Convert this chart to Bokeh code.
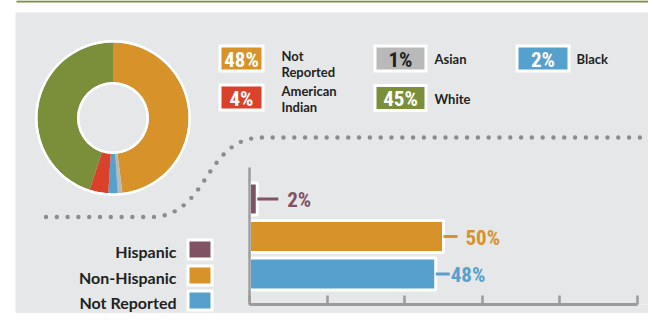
import numpy as np
from bokeh.plotting import figure
from bokeh.models import Range1d, LinearAxis, SingleIntervalTicker, ColumnDataSource
from bokeh.core.properties import value
from bokeh.embed import file_html
from bokeh.resources import INLINE

# ---------------- data ----------------
race_labels = ["Not\nReported", "Asian", "Black", "American\nIndian", "White"]
race_pct = [48, 1, 2, 4, 45]
race_colors = ["#d8922a", "#b9b9b9", "#56a0cd", "#d9412b", "#7b8f3b"]
race_num_colors = ["white", "#231f20", "white", "white", "white"]

eth_labels = ["Hispanic", "Non-Hispanic", "Not Reported"]
eth_pct = [2, 50, 48]
eth_colors = ["#7f5363", "#d8922a", "#56a0cd"]

axis_step = 20
axis_max = 100

# ---------------- style / layout ----------------
PANEL = "#e6e7e8"
GREEN = "#7b8f3b"
DARK = "#231f20"
AXIS = "#9b9b9b"
DOT = "#8c8c8c"
LATO = value("Lato")
NUMF = value("Roboto Condensed, DejaVu Sans Condensed, Roboto")

W, H = 648, 313
FRAME_B = 304      # frame bottom (px from top of figure)
PX = 3.88          # px per percent on the bar chart
X0 = 249           # x of 0 %
BAR_Y0 = 198.5     # y of first bar centre
BAR_DY = 37.5      # bar spacing (px)

p = figure(width=W, height=H, output_backend="svg", toolbar_location=None,
           x_range=Range1d(0, W), y_range=Range1d(FRAME_B, 0),
           x_axis_location=None, y_axis_location=None,
           min_border_left=0, min_border_right=0, min_border_top=0,
           min_border_bottom=H - FRAME_B, background_fill_color=PANEL,
           border_fill_color=PANEL, outline_line_color=None)
p.xgrid.grid_line_color = None
p.ygrid.grid_line_color = None

p.extra_x_ranges = {"pct": Range1d((0 - X0) / PX, (W - X0) / PX)}
p.extra_y_ranges = {"bars": Range1d((FRAME_B - BAR_Y0) / BAR_DY, (0 - BAR_Y0) / BAR_DY)}

# white surround, panel edge and top rule
p.quad(left=-5, right=700, top=-5, bottom=12, fill_color="white", line_color=None)
p.quad(left=16, right=700, top=0, bottom=2, fill_color=GREEN, line_color=None)

# ---------------- donut ----------------
cx, cy = 112.5, 117.5
cum = np.cumsum([0] + race_pct)
start = np.pi / 2 - 2 * np.pi * cum[:-1] / 100.0
end = np.pi / 2 - 2 * np.pi * cum[1:] / 100.0
p.annular_wedge(x=cx, y=cy, inner_radius=36, outer_radius=75.5,
                start_angle=start, end_angle=end, direction="clock",
                fill_color=race_colors, line_color=None)
p.annulus(x=cx, y=cy, inner_radius=75.5, outer_radius=78, fill_color="white", line_color=None)
p.annulus(x=cx, y=cy, inner_radius=33.5, outer_radius=36, fill_color="white", line_color=None)

# ---------------- race legend ----------------
box_cx = [241, 400, 542.5, 241, 400]
box_cy = [58, 58, 58, 97, 97.5]
box_w = [46, 54, 55, 46, 54]
lbl_x = [281, 434, 576, 281, 434]
lbl_y = [63, 58, 58, 98, 98]
p.rect(x=box_cx, y=box_cy, width=box_w, height=28, fill_color="white", line_color=None)
p.rect(x=box_cx, y=box_cy, width=[w - 6 for w in box_w], height=22,
       fill_color=race_colors, line_color=None)
p.text(x=box_cx, y=[y + 1 for y in box_cy], text=[f"{v}%" for v in race_pct],
       text_color=race_num_colors, text_font=NUMF, text_font_style="bold",
       text_font_size="21px", text_align="center", text_baseline="middle")
p.text(x=lbl_x, y=lbl_y, text=race_labels, text_color=DARK, text_font=LATO,
       text_font_style="bold", text_font_size="13px", text_align="left",
       text_baseline="middle", text_line_height=1.0)

# ---------------- dotted connector ----------------
def bez(p0, p1, p2, p3, n=400):
    t = np.linspace(0, 1, n)[:, None]
    P = [np.array(q, float) for q in (p0, p1, p2, p3)]
    return ((1 - t) ** 3) * P[0] + 3 * ((1 - t) ** 2) * t * P[1] + 3 * (1 - t) * t ** 2 * P[2] + t ** 3 * P[3]

path = np.vstack([
    np.column_stack([np.linspace(45.5, 150, 200), np.full(200, 216.5)]),
    bez((150, 216.5), (209, 216.5), (203, 137), (262, 137)),
    np.column_stack([np.linspace(262, 640, 400), np.full(400, 137)]),
])
seg = np.hypot(np.diff(path[:, 0]), np.diff(path[:, 1]))
arc = np.concatenate([[0], np.cumsum(seg)])
ds = np.arange(0, arc[-1], 10.8)
dx = np.interp(ds, arc, path[:, 0])
dy = np.interp(ds, arc, path[:, 1])
p.scatter(x=dx, y=dy, size=4.4, marker="circle", fill_color=DOT, line_color=None)

# ---------------- bars ----------------
idx = list(range(len(eth_labels)))
src = ColumnDataSource(dict(y=idx, right=eth_pct, color=eth_colors))
p.hbar(y="y", left=0, right="right", height=0.853, fill_color="color",
       line_color="white", line_width=3, source=src,
       x_range_name="pct", y_range_name="bars")

lead_px = [21, 14, 14]
gap_px = [9, 8, 1]
p.segment(x0=eth_pct, x1=[v + l / PX for v, l in zip(eth_pct, lead_px)],
          y0=idx, y1=idx, line_color=eth_colors, line_width=3,
          x_range_name="pct", y_range_name="bars")
p.text(x=[v + (l + g) / PX for v, l, g in zip(eth_pct, lead_px, gap_px)],
       y=[i + 0.03 for i in idx], text=[f"{v}%" for v in eth_pct],
       text_color=eth_colors, text_font=NUMF, text_font_style="bold",
       text_font_size="21px", text_align="left", text_baseline="middle",
       x_range_name="pct", y_range_name="bars")

# vertical axis line
p.segment(x0=0, x1=0, y0=167, y1=FRAME_B + 1, line_color=AXIS, line_width=2.5,
          x_range_name="pct")

# bottom axis
ax = LinearAxis(x_range_name="pct", bounds=(0, axis_max),
                ticker=SingleIntervalTicker(interval=axis_step))
ax.axis_line_color = AXIS
ax.axis_line_width = 3
ax.major_tick_line_color = AXIS
ax.major_tick_line_width = 2.5
ax.major_tick_in = 9
ax.major_tick_out = 0
ax.minor_tick_line_color = None
ax.major_label_text_font_size = "0px"
ax.major_label_text_color = None
ax.major_label_standoff = 0
p.add_layout(ax, "below")

# cover the frame/border seam and keep the left margin white (unclipped overlay level)
p.quad(left=14, right=247.6, top=300, bottom=320, fill_color=PANEL, line_color=None,
       level="overlay")
p.quad(left=-5, right=15, top=-5, bottom=320, fill_color="white", line_color=None,
       level="overlay")

# ---------------- ethnicity legend ----------------
eth_box_y = [249, 275, 300]
p.rect(x=199.5, y=eth_box_y, width=27, height=22, fill_color="white", line_color=None,
       level="overlay")
p.rect(x=199.5, y=eth_box_y, width=21, height=16, fill_color=eth_colors, line_color=None,
       level="overlay")
p.text(x=176, y=[y + 1.5 for y in eth_box_y], text=eth_labels, text_color=DARK,
       text_font=LATO, text_font_style="bold", text_font_size="16px",
       text_align="right", text_baseline="middle", level="overlay")

open("out.html", "w").write(file_html(p, INLINE))
